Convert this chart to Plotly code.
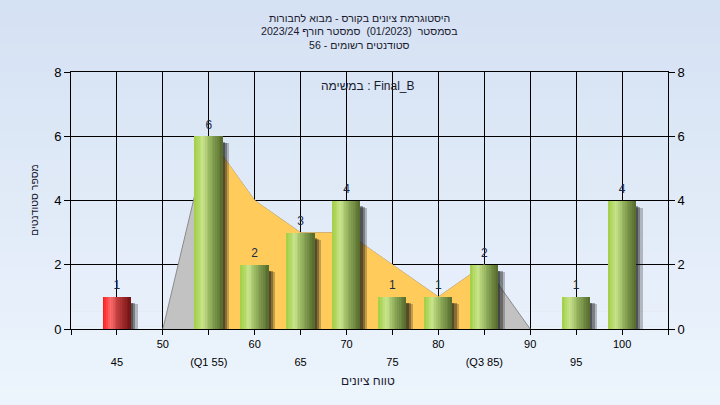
import plotly.graph_objects as go

# ---- data ----
grades = [45, 50, 55, 60, 65, 70, 75, 80, 85, 90, 95, 100]
counts = [1, 0, 6, 2, 3, 4, 1, 1, 2, 0, 1, 4]
bar_kind = ["fail"] + ["pass"] * 11
upper_ticks = [50, 60, 70, 80, 90, 100]
upper_labels = ["50", "60", "70", "80", "90", "100"]
lower_ticks = [45, 55, 65, 75, 85, 95]
lower_labels = ["45", "(Q1 55)", "65", "75", "(Q3 85)", "95"]
q1, q3 = 55, 85
trend_x = [50, 55, 60, 65, 70, 75, 80, 85, 90]
trend_y = [0, 6, 4, 3, 3, 2, 1, 2, 0]
title_lines = [
    "היסטוגרמת ציונים בקורס - מבוא לחבורות",
    "בסמסטר  (01/2023)  סמסטר חורף 2023/24",
    "סטודנטים רשומים - 56",
]
task_label = "במשימה : Final_B"
x_title = "טווח ציונים"
y_title = "מספר סטודנטים"

FONT = "Liberation Sans, Arial, DejaVu Sans, sans-serif"


def lerp(c1, c2, t):
    return tuple(int(round(a + (b - a) * t)) for a, b in zip(c1, c2))


def grad(stops, t):
    for (t0, c0), (t1, c1) in zip(stops, stops[1:]):
        if t <= t1:
            return lerp(c0, c1, (t - t0) / (t1 - t0) if t1 > t0 else 0)
    return stops[-1][1]


green_stops = [(0.0, (160, 206, 66)), (0.3, (200, 228, 140)), (0.55, (150, 180, 95)), (1.0, (84, 106, 44))]
red_stops = [(0.0, (255, 20, 20)), (0.28, (255, 110, 110)), (0.55, (190, 60, 60)), (1.0, (115, 18, 18))]

fig = go.Figure()

# background gradient bands (paper)
top_c, bot_c = (212, 225, 243), (238, 245, 253)
nb = 30
for i in range(nb):
    c = lerp(top_c, bot_c, i / (nb - 1))
    fig.add_shape(type="rect", xref="paper", yref="paper",
                  x0=-0.2, x1=1.2,
                  y0=1.35 - (i + 1) * 1.75 / nb, y1=1.35 - i * 1.75 / nb + 0.002,
                  fillcolor="rgb(%d,%d,%d)" % c, line_width=0, layer="below")

# trend area (outer, grey) on base axes (below bars)
fig.add_trace(go.Scatter(x=trend_x, y=trend_y, mode="lines", fill="tozeroy",
                         fillcolor="#C2C2C2", line=dict(color="#8A8A8A", width=1),
                         hoverinfo="skip", showlegend=False))
# trend area between Q1 and Q3 (yellow)
ix = [i for i, x in enumerate(trend_x) if q1 <= x <= q3]
fig.add_trace(go.Scatter(x=[trend_x[i] for i in ix], y=[trend_y[i] for i in ix],
                         mode="lines", fill="tozeroy", fillcolor="#FFCB5B",
                         line=dict(color="#FFCB5B", width=0.5),
                         hoverinfo="skip", showlegend=False))

W = 3.0
# shadows (overlay axis y3 so they sit above the area)
for sw, drop, alpha in [(0.8, 0.22, 0.25), (0.55, 0.2, 0.35), (0.3, 0.18, 0.4)]:
    fig.add_trace(go.Bar(x=grades, y=[max(0, c - drop) if c > 0 else 0 for c in counts],
                         width=sw, offset=W / 2 - 0.05, yaxis="y3",
                         marker=dict(color="rgba(20,20,20,%.2f)" % alpha, line_width=0),
                         hoverinfo="skip", showlegend=False))

# gradient bars via slices
N = 16
for i in range(N):
    t = (i + 0.5) / N
    cols = []
    for k in bar_kind:
        c = grad(red_stops if k == "fail" else green_stops, t)
        cols.append("rgb(%d,%d,%d)" % c)
    fig.add_trace(go.Bar(x=grades, y=counts, width=W / N * 1.1, offset=-W / 2 + i * W / N,
                         yaxis="y3",
                         marker=dict(color=cols, line_width=0),
                         hoverinfo="skip", showlegend=False))

# value labels
fig.add_trace(go.Scatter(x=grades, y=counts, mode="markers+text", yaxis="y3",
                         text=[str(c) if c > 0 else "" for c in counts],
                         textposition="top center",
                         marker=dict(size=6, opacity=0),
                         textfont=dict(family=FONT, size=12, color="#1E2A44"),
                         hoverinfo="skip", showlegend=False))

# dummy traces for right axis and lower tick row
fig.add_trace(go.Scatter(x=[grades[0]], y=[0], yaxis="y2", mode="markers",
                         marker=dict(opacity=0), hoverinfo="skip", showlegend=False))
fig.add_trace(go.Scatter(x=[grades[0]], y=[0], xaxis="x2", mode="markers",
                         marker=dict(opacity=0), hoverinfo="skip", showlegend=False))

tickvals = [40] + grades + [105]

fig.update_layout(
    width=720, height=405,
    margin=dict(l=71, r=52, t=72, b=76),
    paper_bgcolor="#E3ECF8",
    plot_bgcolor="#B2B2B2",
    barmode="overlay",
    bargap=0,
    showlegend=False,
    font=dict(family=FONT, size=12, color="#000000"),
    xaxis=dict(range=[40, 105], tickvals=tickvals,
               ticktext=[""] + [upper_labels[upper_ticks.index(g)] if g in upper_ticks else "" for g in grades] + [""],
               showgrid=True, gridcolor="#000000", gridwidth=1,
               showline=True, linecolor="#000000", linewidth=1, mirror=True,
               ticks="outside", ticklen=5, tickcolor="#000000",
               tickfont=dict(family=FONT, size=11),
               zeroline=False),
    xaxis2=dict(range=[40, 105], overlaying="x", side="bottom", anchor="y",
                tickvals=lower_ticks, ticktext=lower_labels,
                showgrid=False, showline=False, zeroline=False, ticks="",
                ticklabelstandoff=25,
                tickfont=dict(family=FONT, size=11)),
    yaxis=dict(range=[0, 8], dtick=2, tick0=0,
               showgrid=True, gridcolor="#000000", gridwidth=1,
               showline=True, linecolor="#000000", linewidth=1, mirror=True,
               ticks="outside", ticklen=6, tickcolor="#000000",
               tickfont=dict(family=FONT, size=13),
               zeroline=False),
    yaxis2=dict(range=[0, 8], dtick=2, tick0=0, overlaying="y", side="right",
                showgrid=False, zeroline=False, showline=False,
                ticks="outside", ticklen=6, tickcolor="#000000",
                tickfont=dict(family=FONT, size=13)),
    yaxis3=dict(range=[0, 8], overlaying="y", visible=False, showgrid=False,
                zeroline=False),
    annotations=[
        dict(text=title_lines[0], xref="paper", yref="paper", x=0.484, y=1.210,
             xanchor="center", yanchor="middle", showarrow=False,
             font=dict(family=FONT, size=10.6, color="#1A1A2E")),
        dict(text=title_lines[1], xref="paper", yref="paper", x=0.484, y=1.1595,
             xanchor="center", yanchor="middle", showarrow=False,
             font=dict(family=FONT, size=10.6, color="#1A1A2E")),
        dict(text=title_lines[2], xref="paper", yref="paper", x=0.484, y=1.105,
             xanchor="center", yanchor="middle", showarrow=False,
             font=dict(family=FONT, size=10.6, color="#1A1A2E")),
        dict(text=task_label, xref="paper", yref="paper", x=0.498, y=0.945,
             xanchor="center", yanchor="middle", showarrow=False,
             font=dict(family=FONT, size=12, color="#1A1A2E")),
        dict(text=x_title, xref="paper", yref="paper", x=0.498, y=-0.202,
             xanchor="center", yanchor="middle", showarrow=False,
             font=dict(family=FONT, size=12, color="#1A1A2E")),
        dict(text=y_title, xref="paper", yref="paper", x=-0.062, y=0.502,
             xanchor="center", yanchor="middle", showarrow=False, textangle=-90,
             font=dict(family=FONT, size=10.5, color="#1A1A2E")),
    ],
)

fig.write_html("out.html", config={"displayModeBar": False},
               post_script="document.body.style.margin='0';")
